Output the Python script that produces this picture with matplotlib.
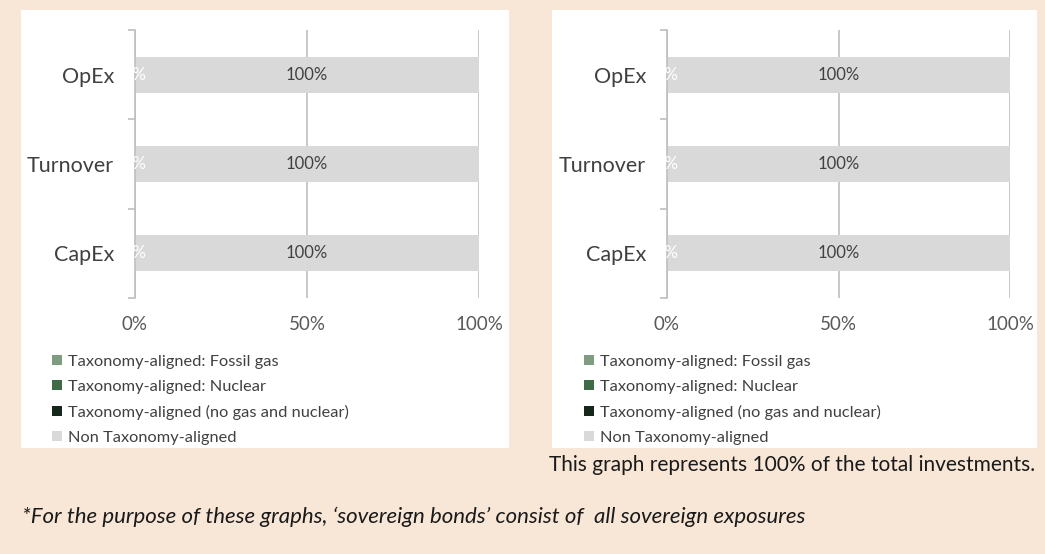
import matplotlib.pyplot as plt
from matplotlib.patches import Rectangle, Patch

plt.rcParams['font.family'] = ['Lato', 'DejaVu Sans']

# datos de los dos graficos (con y sin bonos soberanos)
categorias = ["CapEx", "Turnover", "OpEx"]
series = ["Taxonomy-aligned: Fossil gas",
          "Taxonomy-aligned: Nuclear",
          "Taxonomy-aligned (no gas and nuclear)",
          "Non Taxonomy-aligned"]
colores = ["#7F9C80", "#3F6B47", "#15261A", "#D9D9D9"]
valores_izq = [[0, 0, 0], [0, 0, 0], [0, 0, 0], [100, 100, 100]]
valores_der = [[0, 0, 0], [0, 0, 0], [0, 0, 0], [100, 100, 100]]
ticks_x = [0, 50, 100]
ticks_x_txt = ["0%", "50%", "100%"]

W, H = 1045, 554
fig = plt.figure(figsize=(W / 100, H / 100), dpi=100)
fig.patch.set_facecolor("#F8E6D6")

# paneles blancos
for x0, x1 in [(21, 509), (552, 1037)]:
    fig.patches.append(Rectangle((x0 / W, 1 - 448 / H), (x1 - x0) / W, 438 / H,
                                 transform=fig.transFigure, facecolor="white",
                                 edgecolor="none", zorder=-5))


def grafico(ax, valores, x_leg):
    izquierda = [0] * len(categorias)
    for nombre, col, vals in zip(series, colores, valores):
        ax.barh(range(len(categorias)), vals, left=izquierda, height=0.4,
                color=col, label=nombre, zorder=2)
        izquierda = [a + b for a, b in zip(izquierda, vals)]
    for i in range(len(categorias)):
        ax.text(valores[0][i], i, f"{valores[0][i]}%", color="white",
                ha="center", va="center", fontsize=12, zorder=3)
        ax.text(valores[0][i] + valores[3][i] / 2, i, f"{valores[3][i]}%",
                color="#404040", ha="center", va="center", fontsize=12, zorder=3)

    ax.set_xlim(0, 100)
    ax.set_ylim(-0.5, 2.5)
    ax.set_facecolor("none")
    ax.set_xticks(ticks_x)
    ax.set_xticklabels(ticks_x_txt, color="#595959", fontsize=13.5)
    ax.tick_params(axis="x", length=0, pad=13)
    ax.set_yticks([-0.5, 0.5, 1.5, 2.5])
    ax.set_yticklabels([])
    ax.set_yticks(range(len(categorias)), minor=True)
    ax.set_yticklabels(categorias, minor=True, color="#404040", fontsize=15.5)
    ax.tick_params(axis="y", which="major", length=5, color="#BFBFBF", width=1.2)
    ax.tick_params(axis="y", which="minor", length=0, pad=15)
    ax.grid(axis="x", color="#BFBFBF", linewidth=1.2, zorder=1)
    for s in ["top", "right", "bottom"]:
        ax.spines[s].set_visible(False)
    ax.spines["left"].set_color("#BFBFBF")
    ax.spines["left"].set_linewidth(1.2)

    handles = [Patch(facecolor=c, edgecolor="none") for c in colores]
    fig.legend(handles, series, loc="upper left",
               bbox_to_anchor=(x_leg / W, 1 - 355 / H), frameon=False,
               fontsize=11.8, labelcolor="#404040", handlelength=0.6,
               handleheight=0.6, handletextpad=0.35, labelspacing=0.66,
               borderpad=0, borderaxespad=0)


ax1 = fig.add_axes([135 / W, 1 - 298 / H, 344 / W, 268 / H])
grafico(ax1, valores_izq, 52)
ax2 = fig.add_axes([667 / W, 1 - 298 / H, 343 / W, 268 / H])
grafico(ax2, valores_der, 584)

fig.text(1035 / W, 1 - 465 / H,
         "This graph represents 100% of the total investments.",
         ha="right", va="center", fontsize=15, color="#1A1A1A")
fig.text(22 / W, 1 - 517 / H,
         "*For the purpose of these graphs, \u2018sovereign bonds\u2019 consist of  all sovereign exposures",
         ha="left", va="center", fontsize=16, color="#1A1A1A", style="italic")

fig.savefig("out.png", dpi=100, facecolor=fig.get_facecolor())
